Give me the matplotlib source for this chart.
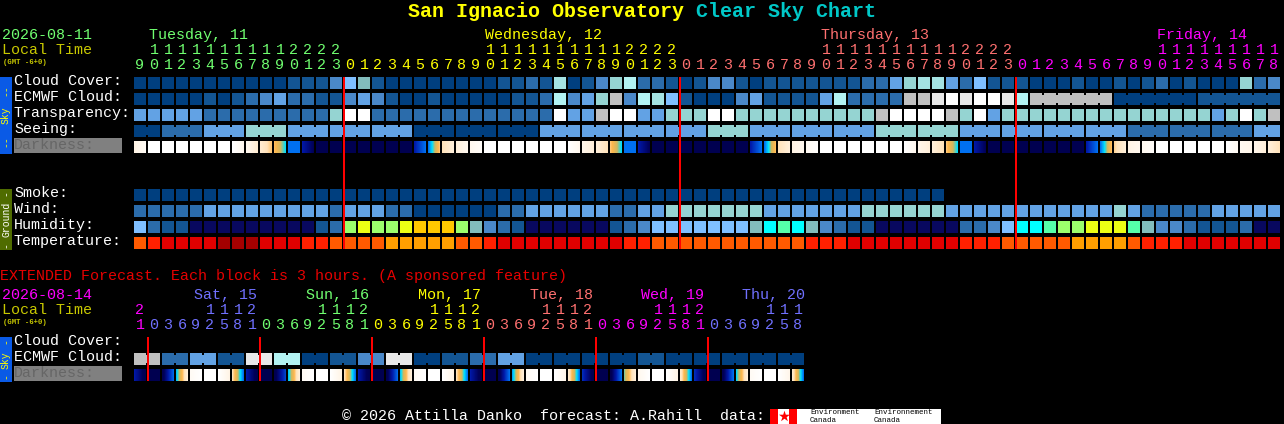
import matplotlib
matplotlib.use('Agg')
import matplotlib.pyplot as plt
from matplotlib.colors import LinearSegmentedColormap
from matplotlib.patches import Rectangle
import numpy as np

plt.rcParams['font.family'] = ['Liberation Mono', 'DejaVu Sans Mono']

# colour scales, block value -> colour
SKY = ['#003f7f', '#135593', '#2b6cab', '#4a88c9', '#62a2e4', '#7fbfff', '#82bdbd',
       '#95d4d2', '#a4e3e3', '#b2f2f2', '#c0c0c0', '#e8e8e8', '#ffffff']
HUMID = {'n': '#08085f', 1: '#135593', 2: '#2b6cab', 3: '#4a88c9', 5: '#7fbfff', 6: '#82bdbd',
         'c': '#00ffff', 'g': '#55ffaa', 'l': '#9cff6c', 'y': '#ecff14', 'a': '#ffc800'}
TEMP = ['#a40000', '#e00000', '#ff2000', '#ff5a00', '#ff9f00']

cloud = [0, 0, 0, 0, 0, 0, 0, 0, 0, 0, 0, 1, 1, 1, 3, 5, 6, 1, 0, 0, 0,
         0, 0, 0, 0, 0, 1, 1, 2, 1, 8, 0, 1, 3, 7, 9, 2, 2, 1, 0, 1, 3, 3, 1, 0, 1, 1, 1, 1, 1, 1,
         1, 2, 2, 4, 7, 8, 8, 4, 2, 5, 1, 1, 1, 0, 0, 0, 1, 0, 0, 1, 0, 1, 2, 0, 1, 0, 0, 0, 7, 2, 3]
ecmwf = [0, 0, 0, 0, 0, 1, 0, 1, 2, 3, 4, 2, 2, 1, 1, 3, 4, 3, 1, 0, 0,
         1, 0, 0, 0, 0, 0, 1, 1, 2, 9, 3, 4, 7, 10, 3, 9, 8, 5, 1, 0, 0, 0, 3, 4, 1, 1, 1, 1, 4, 9,
         2, 2, 2, 2, 10, 10, 11, 12, 11, 12, 12, 11, 9]
ecmwf_spans = [6, 6, 6]
ecmwf_groups = [10, 0, 1]
transparency = [4, 4, 4, 4, 4, 2, 2, 2, 2, 2, 2, 2, 2, 2, 7, 12, 12, 2, 2, 2, 2,
                2, 2, 2, 2, 2, 2, 2, 2, 2, 12, 4, 4, 10, 12, 12, 4, 4, 7, 7, 7, 12, 12, 7, 7, 7, 7, 7, 7, 7, 7,
                7, 7, 10, 12, 12, 12, 12, 10, 7, 12, 4, 7, 7, 7, 7, 7, 7, 7, 7, 7, 7, 7, 7, 7, 7, 7, 4, 7, 12, 7, 10]
seeing_spans = [2, 3, 3, 3, 3, 3, 3, 3, 3, 3, 3, 3, 3, 3, 3, 3, 3, 3, 3, 3, 3, 3, 3, 3, 3, 3, 3, 2]
seeing = [0, 2, 4, 7, 4, 4, 4, 0, 0, 0, 4, 4, 4, 4, 7, 4, 4, 4, 7, 7, 4, 4, 4, 4, 2, 2, 2, 4]
smoke = [0] * 58
wind = [2, 2, 2, 2, 2, 4, 4, 4, 4, 4, 4, 4, 4, 4, 2, 4, 4, 4, 2, 2, 0,
        0, 0, 0, 0, 0, 2, 2, 4, 4, 4, 4, 4, 4, 2, 2, 4, 4, 7, 7, 7, 7, 7, 7, 7, 4, 4, 4, 4, 4, 4,
        4, 7, 7, 7, 7, 7, 7, 4, 4, 4, 4, 4, 4, 4, 4, 4, 4, 4, 4, 7, 4, 2, 2, 2, 2, 2, 4, 4, 4, 4, 4]
humidity = [5, 2, 1, 1, 'n', 'n', 'n', 'n', 'n', 'n', 'n', 'n', 'n', 1, 2, 'l', 'y', 'l', 'l', 'y', 'a',
            'a', 'a', 'l', 6, 3, 2, 1, 'n', 'n', 'n', 'n', 'n', 'n', 1, 2, 3, 5, 5, 5, 5, 5, 5, 5, 6, 'c', 'g', 'c', 6, 3, 2,
            1, 1, 'n', 'n', 'n', 'n', 'n', 'n', 2, 2, 3, 5, 'c', 'c', 'g', 'l', 'l', 'y', 'y', 'y', 'g', 6, 3, 3, 2, 1, 1, 1, 2, 'n', 'n']
temperature = [3, 2, 1, 1, 1, 1, 0, 0, 0, 1, 1, 1, 2, 2, 3, 3, 3, 3, 4, 4, 4,
               4, 4, 3, 3, 2, 1, 1, 1, 1, 1, 1, 1, 1, 1, 2, 2, 3, 3, 3, 3, 3, 3, 3, 3, 3, 3, 3, 2, 2, 2,
               1, 1, 1, 1, 1, 1, 1, 1, 2, 2, 2, 3, 3, 3, 3, 3, 4, 4, 4, 4, 3, 2, 2, 2, 1, 1, 1, 1, 1, 1, 1]

# darkness: 0 = daylight, 1 = full night, value at left and right edge of each block
dark_left = [.12, 0, 0, 0, 0, 0, 0, 0, .08, .18, .32, .6, .8, 1, 1, 1, 1, 1, 1, 1, .8,
             .6, .25, .15, .08, 0, 0, 0, 0, 0, 0, 0, .1, .15, .3, .6, .8, 1, 1, 1, 1, 1, 1, 1, .8, .6, .25, .12, .06, 0, 0,
             0, 0, 0, 0, 0, .1, .15, .3, .6, .8, 1, 1, 1, 1, 1, 1, 1, .8, .6, .28, .12, .07, 0, 0, 0, 0, 0, 0, .07, .1, .15]
dark_right = [.05, 0, 0, 0, 0, 0, 0, .08, .18, .3, .5, .6, .95, 1, 1, 1, 1, 1, 1, 1, .6,
              .3, .15, .08, .03, 0, 0, 0, 0, 0, 0, .08, .15, .25, .5, .6, .95, 1, 1, 1, 1, 1, 1, 1, .6, .32, .15, .08, .02, 0, 0,
              0, 0, 0, 0, .08, .15, .25, .5, .6, .95, 1, 1, 1, 1, 1, 1, 1, .6, .32, .15, .08, .03, 0, 0, 0, 0, 0, .06, .1, .15, .25]
hour_labels = [9, 10, 11, 12, 13, 14, 15, 16, 17, 18, 19, 20, 21, 22, 23] + list(range(24)) * 3 + [0, 1, 2, 3, 4, 5, 6, 7, 8, 9, 10, 11, 12, 13, 14, 15, 16, 17, 18]
hour_labels = hour_labels[:82]
hour_days = [0] * 15 + [1] * 24 + [2] * 24 + [3] * 19
day_names = ['Tuesday, 11', 'Wednesday, 12', 'Thursday, 13', 'Friday, 14']
day_colors = ['#70ff70', '#ffff00', '#ff7070', '#ff00ff']
day_x = [149, 485, 821, 1157]

ext_groups = [10, 2, 4, 1, 11, 9, 0, 1, 3, 11, 0, 1, 2, 4, 0, 0, 0, 0, 1, 0, 0, 0, 0, 0]
ext_dark_left = [.8, 1, 1, .52, .05, 0, 0, .25, .8, 1, 1, .52, .05, 0, 0, .25, .8, 1, 1, .52, .05, 0, 0, .25,
                 .8, 1, 1, .55, .05, 0, 0, .2, .75, 1, 1, .45, .08, 0, 0, .2, .75, 1, 1, .5, .05, 0, 0, .2]
ext_dark_right = [1, 1, .62, .15, 0, 0, .12, .6, 1, 1, .7, .15, 0, 0, .12, .6, 1, 1, .62, .15, 0, 0, .12, .6,
                  1, 1, .6, .15, 0, 0, .1, .6, 1, 1, .6, .15, 0, 0, .12, .6, 1, 1, .6, .15, 0, 0, .1, .6]
ext_hours = [21] + [0, 3, 6, 9, 12, 15, 18, 21] * 5 + [0, 3, 6, 9, 12, 15, 18]
ext_hour_days = [0] + [1] * 8 + [2] * 8 + [3] * 8 + [4] * 8 + [5] * 8 + [6] * 7
ext_day_names = ['Sat, 15', 'Sun, 16', 'Mon, 17', 'Tue, 18', 'Wed, 19', 'Thu, 20']
ext_day_colors = ['#ff00ff', '#7070ff', '#70ff70', '#ffff00', '#ff7070', '#ff00ff', '#7070ff']
ext_day_x = [194, 306, 418, 530, 641, 742]

dark_cmap = LinearSegmentedColormap.from_list('dark', [
    (0, '#ffffff'), (.1, '#fff6ea'), (.25, '#ffe3bb'), (.33, '#ffb74d'), (.42, '#d0b860'),
    (.5, '#00e0ff'), (.6, '#0070f0'), (.8, '#0018a8'), (.95, '#000058'), (1, '#000050')])

X0 = 134
PITCH = 14
SIZE = 12


def block_x(col):
    return X0 + PITCH * col


def rect(ax, x, y, w, h, color, z=2):
    # axes cover the whole figure in pixels, so integer edges stay crisp
    ax.add_patch(Rectangle((x, y), w, h, facecolor=color, edgecolor='none', snap=False, zorder=z))


def row(ax, y, values, colors):
    for col, val in enumerate(values):
        rect(ax, block_x(col), y, SIZE, SIZE, colors[val])


def grouped(ax, y, start, spans, values, colors):
    col = start
    for span, val in zip(spans, values):
        for k in range(span):
            rect(ax, block_x(col), y, SIZE, SIZE, colors[val])
            if k < span - 1:
                rect(ax, block_x(col) + SIZE, y + 2, PITCH - SIZE, SIZE - 4, colors[val])
            col += 1


def dark_row(ax, y, left, right):
    for col, (a, b) in enumerate(zip(left, right)):
        grad = np.linspace(a, b, SIZE).reshape(1, -1)
        ax.imshow(grad, cmap=dark_cmap, vmin=0, vmax=1, aspect='auto', interpolation='nearest', zorder=2,
                  extent=(block_x(col), block_x(col) + SIZE, y + SIZE, y))


def label(ax, x, y, s, color='white', size=10.8, **kw):
    ax.text(x, y, s, color=color, fontsize=size, va='center', ha=kw.pop('ha', 'left'), **kw)


def hours(ax, y_tens, y_units, hrs, days, colors):
    for col, h in enumerate(hrs):
        c = colors[days[col]]
        cx = block_x(col) + 6
        if h >= 10:
            label(ax, cx, y_tens, str(h // 10), c, ha='center')
        label(ax, cx, y_units, str(h % 10), c, ha='center')


def side(ax, y, s, color):
    ax.text(6, y, s, color=color, fontsize=7, rotation=90, ha='center', va='center', zorder=3)


def main():
    fig = plt.figure(figsize=(12.84, 4.24), dpi=100, facecolor='black')
    ax = fig.add_axes([0, 0, 1, 1])
    ax.set_facecolor('black')
    ax.axis('off')

    # title
    title_parts = [('San Ignacio Observatory', '#ffff00', 408), ('Clear Sky Chart', '#00c8c8', 696)]
    for s, c, x in title_parts:
        ax.text(x, 11.5, s, color=c, fontsize=14.4, fontweight='bold', va='center', ha='left')

    # header of the hourly part
    label(ax, 2, 35, '2026-08-11', '#70ff70')
    label(ax, 2, 50, 'Local Time', '#c8c800')
    label(ax, 3, 62, '(GMT -6+0)', '#c8c800', size=5.2, fontweight='bold')
    for name, c, x in zip(day_names, day_colors, day_x):
        label(ax, x, 35, name, c)
    hours(ax, 50, 65, hour_labels, hour_days, day_colors)

    # hourly rows
    names = ['Cloud Cover:', 'ECMWF Cloud:', 'Transparency:', 'Seeing:']
    for i, s in enumerate(names):
        label(ax, 14, 81 + 16 * i, s)
    rect(ax, 14, 138, 108, 15, '#808080')
    label(ax, 14, 145, 'Darkness:', '#666666')
    row(ax, 77, cloud, SKY)
    row(ax, 93, ecmwf, SKY)
    grouped(ax, 93, len(ecmwf), ecmwf_spans, ecmwf_groups, SKY)
    row(ax, 109, transparency, SKY)
    grouped(ax, 125, 0, seeing_spans, seeing, SKY)
    dark_row(ax, 141, dark_left, dark_right)

    for i, s in enumerate(['Smoke:', 'Wind:', 'Humidity:', 'Temperature:']):
        label(ax, 14, 193 + 16 * i, s)
    row(ax, 189, smoke, SKY)
    row(ax, 205, wind, SKY)
    row(ax, 221, humidity, HUMID)
    row(ax, 237, temperature, TEMP)

    rect(ax, 0, 77, 12, 77, '#0a5ae6')
    side(ax, 90, '--', '#ffff00')
    side(ax, 115, 'Sky', '#ffff00')
    side(ax, 141, '--', '#ffff00')
    rect(ax, 0, 189, 12, 61, '#4f6c00')
    side(ax, 193, '-', 'white')
    side(ax, 219, 'Ground', 'white')
    side(ax, 245, '-', 'white')

    for col in [15, 39, 63]:
        rect(ax, block_x(col) - 1, 77, 2, 172, '#ff0000', z=4)

    # extended forecast
    label(ax, 0, 276, 'EXTENDED Forecast. Each block is 3 hours. (A sponsored feature)', '#e60000')
    label(ax, 2, 295, '2026-08-14', '#ff00ff')
    label(ax, 2, 310, 'Local Time', '#c8c800')
    label(ax, 3, 322, '(GMT -6+0)', '#c8c800', size=5.2, fontweight='bold')
    for name, c, x in zip(ext_day_names, ext_day_colors[1:], ext_day_x):
        label(ax, x, 295, name, c)
    hours(ax, 310, 325, ext_hours, ext_hour_days, ext_day_colors)

    label(ax, 14, 341, 'Cloud Cover:')
    label(ax, 14, 357, 'ECMWF Cloud:')
    rect(ax, 14, 366, 108, 15, '#808080')
    label(ax, 14, 373, 'Darkness:', '#666666')
    grouped(ax, 353, 0, [2] * 24, ext_groups, SKY)
    dark_row(ax, 369, ext_dark_left, ext_dark_right)

    rect(ax, 0, 337, 12, 45, '#0a5ae6')
    side(ax, 341.5, '-', '#ffff00')
    side(ax, 360, 'Sky', '#ffff00')
    side(ax, 376.5, '-', '#ffff00')

    for col in [1, 9, 17, 25, 33, 41]:
        rect(ax, block_x(col) - 1, 337, 2, 44, '#ff0000', z=4)

    # footer
    label(ax, 342, 416, '\u00a9 2026 Attilla Danko  forecast: A.Rahill  data:')
    rect(ax, 770, 409, 171, 15, '#ffffff')
    rect(ax, 770, 409, 8, 15, '#ff0000')
    rect(ax, 789, 409, 8, 15, '#ff0000')
    ax.scatter([783.5], [416], marker='*', s=70, color='#ff0000', zorder=3, linewidths=0)
    for x, s in [(810, 'Environment'), (874, 'Environnement')]:
        ax.text(x, 412.5, s, color='black', fontsize=5.4, va='center', zorder=3)
        ax.text(x, 420, 'Canada', color='black', fontsize=5.4, va='center', zorder=3)

    ax.set_xlim(0, 1284)
    ax.set_ylim(424, 0)
    fig.savefig('out.png', dpi=100, facecolor='black')


if __name__ == "__main__":
    main()
